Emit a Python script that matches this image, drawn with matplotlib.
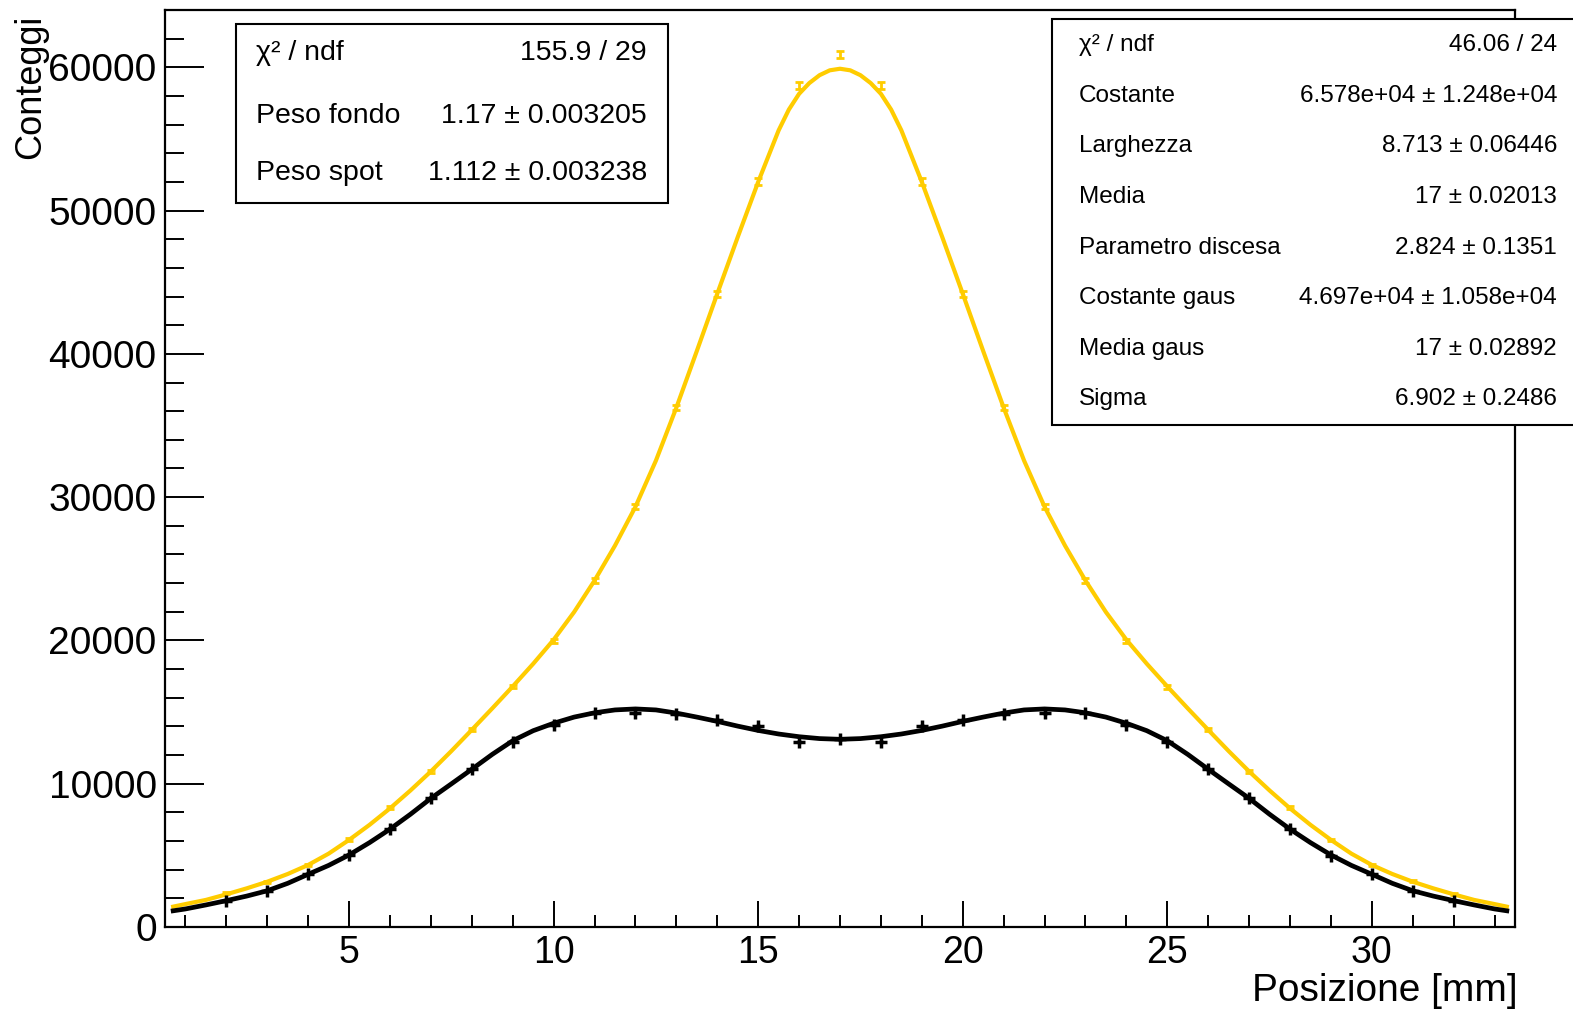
import matplotlib
matplotlib.use("Agg")
import matplotlib.pyplot as plt
from matplotlib.patches import Rectangle
from matplotlib.ticker import MultipleLocator
import numpy as np

plt.rcParams['font.family'] = ['Liberation Sans', 'DejaVu Sans']

# measured points (bin centres 2..32 mm)
pos = list(range(2, 33))
counts_spot = [2370, 3160, 4330, 6100, 8350, 10870, 13800, 16780, 19990, 24180,
               29350, 36250, 44180, 52020, 58730, 60900, 58730, 52020, 44180, 36250,
               29350, 24180, 19990, 16750, 13770, 10850, 8340, 6090, 4310, 3200, 2300]
counts_fondo = [1830, 2520, 3690, 5030, 6820, 9020, 11020, 12940, 14080, 14970,
                14950, 14880, 14440, 14040, 12940, 13100, 12940, 14040, 14440, 14880,
                14950, 14970, 14100, 12940, 11020, 9030, 6820, 4990, 3680, 2510, 1840]

# fitted curves
spot_x = [0.7, 1.0, 1.5, 2.0, 2.5, 3.0, 3.5, 4.0, 4.5, 5.0, 5.5, 6.0, 6.5, 7.0, 7.5,
          8.0, 8.5, 9.0, 9.5, 10.0, 10.5, 11.0, 11.5, 12.0, 12.5, 13.0, 13.5, 14.0,
          14.5, 15.0, 15.5, 15.75, 16.0, 16.25, 16.5, 16.75, 17.0, 17.25, 17.5,
          17.75, 18.0, 18.25, 18.5, 19.0, 19.5, 20.0, 20.5, 21.0, 21.5, 22.0, 22.5,
          23.0, 23.5, 24.0, 24.5, 25.0, 25.5, 26.0, 26.5, 27.0, 27.5, 28.0, 28.5,
          29.0, 29.5, 30.0, 30.5, 31.0, 31.5, 32.0, 32.5, 33.0, 33.3]
spot_fit = [1420, 1600, 1890, 2280, 2700, 3160, 3700, 4330, 5120, 6080, 7130, 8280,
            9530, 10860, 12280, 13760, 15260, 16790, 18370, 20050, 21980, 24180,
            26620, 29330, 32550, 36250, 40200, 44200, 48150, 52000, 55600, 57050,
            58150, 58900, 59450, 59790, 59900, 59790, 59450, 58900, 58150, 57050,
            55600, 52000, 48150, 44200, 40200, 36250, 32550, 29330, 26620, 24180,
            21980, 20050, 18370, 16790, 15260, 13760, 12280, 10860, 9530, 8280,
            7130, 6080, 5120, 4330, 3700, 3160, 2700, 2280, 1890, 1600, 1420]

fondo_x = [0.7, 1.0, 1.5, 2.0, 2.5, 3.0, 3.5, 4.0, 4.5, 5.0, 5.5, 6.0, 6.5, 7.0, 7.5,
           8.0, 8.5, 9.0, 9.5, 10.0, 10.5, 11.0, 11.5, 12.0, 12.5, 13.0, 13.5, 14.0,
           14.5, 15.0, 15.5, 16.0, 16.5, 17.0, 17.5, 18.0, 18.5, 19.0, 19.5, 20.0,
           20.5, 21.0, 21.5, 22.0, 22.5, 23.0, 23.5, 24.0, 24.5, 25.0, 25.5, 26.0,
           26.5, 27.0, 27.5, 28.0, 28.5, 29.0, 29.5, 30.0, 30.5, 31.0, 31.5, 32.0,
           32.5, 33.0, 33.3]
fondo_fit = [1130, 1260, 1540, 1840, 2160, 2530, 3050, 3680, 4300, 5030, 5890, 6830,
             7870, 8980, 9990, 11010, 12050, 13000, 13700, 14220, 14650, 14950,
             15150, 15220, 15150, 14930, 14650, 14350, 14020, 13720, 13470, 13280,
             13150, 13100, 13150, 13280, 13470, 13720, 14020, 14350, 14650, 14930,
             15150, 15220, 15150, 14950, 14650, 14220, 13700, 13000, 12050, 11010,
             9990, 8980, 7870, 6830, 5890, 5030, 4300, 3680, 3050, 2530, 2160, 1840,
             1540, 1260, 1130]

box1_labels = ["χ² / ndf", "Peso fondo", "Peso spot"]
box1_values = ["155.9 / 29", "1.17 ± 0.003205", "1.112 ± 0.003238"]
box2_labels = ["χ² / ndf", "Costante", "Larghezza", "Media", "Parametro discesa",
               "Costante gaus", "Media gaus", "Sigma"]
box2_values = ["46.06 / 24", "6.578e+04 ± 1.248e+04", "8.713 ± 0.06446", "17 ± 0.02013",
               "2.824 ± 0.1351", "4.697e+04 ± 1.058e+04", "17 ± 0.02892", "6.902 ± 0.2486"]

yellow = '#ffcc00'
W, H = 1573, 1013

fig = plt.figure(figsize=(W / 100, H / 100), dpi=100)
ax = fig.add_axes([165 / W, 86 / H, 1350 / W, 917 / H])

ax.plot(spot_x, spot_fit, color=yellow, lw=3.0, zorder=3, solid_joinstyle='round')
ax.plot(fondo_x, fondo_fit, color='black', lw=3.4, zorder=3, solid_joinstyle='round')

ax.errorbar(pos, counts_spot, yerr=np.sqrt(counts_spot), fmt='none', ecolor=yellow,
            elinewidth=2, capsize=3, capthick=2, zorder=4)
ax.errorbar(pos, counts_fondo, yerr=np.sqrt(counts_fondo), fmt='+', color='black',
            ms=8, mew=2.5, elinewidth=2.5, zorder=4)

ax.set_xlim(0.5, 33.5)
ax.set_ylim(0, 64000)
ax.xaxis.set_major_locator(MultipleLocator(5))
ax.xaxis.set_minor_locator(MultipleLocator(1))
ax.yaxis.set_major_locator(MultipleLocator(10000))
ax.yaxis.set_minor_locator(MultipleLocator(2000))
ax.tick_params(axis='both', which='both', direction='in', width=1.4, pad=6)
ax.tick_params(axis='x', labelsize=27)
ax.tick_params(axis='y', labelsize=28)
ax.tick_params(axis='x', which='major', length=19)
ax.tick_params(axis='x', which='minor', length=9)
ax.tick_params(axis='y', which='major', length=28)
ax.tick_params(axis='y', which='minor', length=14)
for s in ax.spines.values():
    s.set_linewidth(1.6)

ax.set_xlabel("Posizione [mm]", fontsize=28, loc='right')
ax.xaxis.set_label_coords(1.002, -0.05)
ax.set_ylabel("Conteggi", fontsize=26, loc='top')
ax.yaxis.set_label_coords(-(165 - 48) / 1350, (927 - 15) / 917)


def stat_box(x0, y0, x1, y1, labels, values, lx, rx, rows, fs):
    fig.add_artist(Rectangle((x0 / W, 1 - y1 / H), (x1 - x0) / W, (y1 - y0) / H,
                             transform=fig.transFigure, facecolor='white',
                             edgecolor='black', lw=1.5, zorder=10))
    for lab, val, r in zip(labels, values, rows):
        fig.text(lx / W, 1 - r / H, lab, fontsize=fs, ha='left', va='center', zorder=11)
        fig.text(rx / W, 1 - r / H, val, fontsize=fs, ha='right', va='center', zorder=11)


stat_box(236, 24, 668, 203, box1_labels, box1_values, 256, 647, [53, 116, 173], 20.5)
stat_box(1052, 19, 1590, 425, box2_labels, box2_values, 1079, 1557,
         [45, 96, 146, 197, 248, 298, 349, 399], 17.5)

fig.savefig("out.png", dpi=100)
